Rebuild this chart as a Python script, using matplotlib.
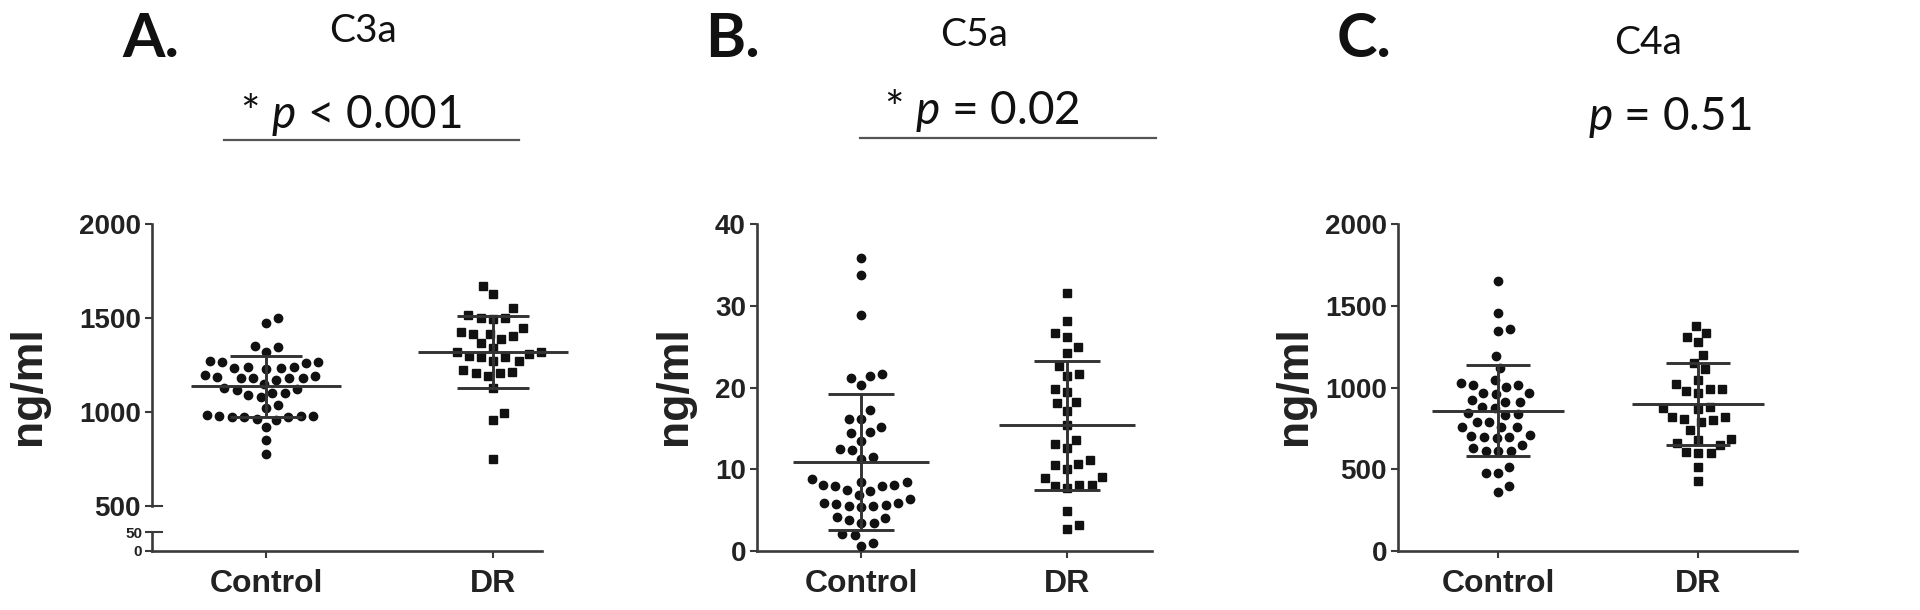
import numpy as np
import matplotlib
matplotlib.use("Agg")
import matplotlib.pyplot as plt
from matplotlib.lines import Line2D

plt.rcParams['font.family'] = ['Liberation Sans', 'DejaVu Sans']
plt.rcParams['mathtext.fontset'] = 'custom'
plt.rcParams['mathtext.it'] = 'Lato:italic'
plt.rcParams['mathtext.rm'] = 'Lato'

# ---------------- data ----------------
groups = ['Control', 'DR']

c3a_control = [1500, 1475, 1350, 1345, 1320, 1270, 1265, 1265, 1262, 1240, 1232,
               1228, 1235, 1240, 1195, 1185, 1180, 1180, 1182, 1180, 1190, 1170,
               1150, 1100, 1080, 1130, 1125, 1115, 1090, 1100, 1035, 1020, 985,
               975, 972, 960, 980, 965, 975, 980, 978, 920, 850, 775]
c3a_dr = [1668, 1627, 1552, 1500, 1500, 1495, 1518, 1425, 1415, 1405, 1415, 1445,
          1390, 1365, 1320, 1310, 1340, 1290, 1270, 1270, 1290, 1210, 1205, 1215,
          1190, 1225, 1300, 1320, 1130, 995, 960, 752]
c3a_mean = [1136, 1320]
c3a_sd = [161, 192]

c5a_control = [35.8, 33.8, 28.9, 21.7, 21.2, 21.4, 20.3, 17.3, 16.2, 16.2, 15.2,
               14.4, 14.6, 13.5, 12.5, 12.4, 11.3, 11.5, 8.8, 8.4, 8.1, 7.5, 7.4,
               7.9, 8.1, 8.0, 8.5, 6.85, 5.9, 5.75, 5.5, 5.35, 5.5, 5.6, 5.9, 6.4,
               4.0, 3.4, 3.4, 3.8, 4.2, 1.96, 2.1, 1.0, 0.65]
c5a_dr = [31.6, 28.1, 26.7, 26.2, 25.0, 24.2, 21.7, 21.4, 22.6, 19.4, 19.8, 18.1,
          18.2, 17.1, 15.4, 13.6, 13.1, 12.6, 11.1, 10.7, 10.5, 10.0, 8.9, 9.0,
          8.0, 7.7, 8.1, 8.1, 4.9, 2.65, 3.2]
c5a_mean = [10.9, 15.4]
c5a_sd = [8.3, 7.9]

c4a_control = [1649, 1455, 1343, 1357, 1190, 1118, 1047, 1016, 1006, 1016, 1027,
               969, 961, 969, 914, 914, 924, 833, 873, 880, 843, 839, 761, 761,
               786, 792, 757, 704, 696, 690, 700, 708, 649, 614, 614, 614, 629,
               476, 476, 516, 363, 398]
c4a_dr = [1378, 1333, 1308, 1276, 1200, 1149, 1112, 1047, 976, 990, 990, 1022, 965,
          867, 822, 873, 880, 786, 802, 806, 818, 741, 663, 680, 649, 684, 598,
          598, 608, 516, 431]
c4a_mean = [859, 900]
c4a_sd = [276, 250]

panel_letters = ['A.', 'B.', 'C.']
panel_titles = ['C3a', 'C5a', 'C4a']
p_texts = [r'* $p$ < 0.001', r'* $p$ = 0.02', r'$p$ = 0.51']
ylabel = 'ng/ml'

# ---------------- layout ----------------
W, H = 1920, 610
fig = plt.figure(figsize=(W / 100, H / 100), dpi=100)

INK = '#111111'
AX = '#3a3a3a'
LINE = '#333333'
TXT = '#222222'


def rect(l, t, r, b):
    return [l / W, 1 - b / H, (r - l) / W, (b - t) / H]


def fx(x):
    return x / W


def fy(y):
    return 1 - y / H


def bold_ticks(ax):
    for lab in ax.get_yticklabels() + ax.get_xticklabels():
        lab.set_fontweight('bold')


def style_axis(ax, show_bottom=True):
    for s in ['top', 'right']:
        ax.spines[s].set_visible(False)
    for s in ['left', 'bottom']:
        ax.spines[s].set_color(AX)
        ax.spines[s].set_linewidth(1.9)
    if not show_bottom:
        ax.spines['bottom'].set_visible(False)
    ax.tick_params(axis='y', direction='out', length=5, width=1.5, color=AX,
                   labelsize=20, labelcolor=TXT, pad=3)
    ax.tick_params(axis='x', direction='out', length=5, width=1.5, color=AX,
                   labelsize=23, labelcolor=TXT, pad=8)
    bold_ticks(ax)
    ax.patch.set_visible(False)


def swarm(ax, values, xc, diam_px=12.5):
    vals = np.asarray(values, dtype=float)
    pts = ax.transData.transform(np.column_stack([np.full(len(vals), xc), vals]))
    ys = pts[:, 1]
    order = np.argsort(ys, kind='stable')
    px_list, py_list = [], []
    xs = np.zeros(len(vals))
    sign = 1.0
    for i in order:
        y = ys[i]
        intervals = []
        for pxx, pyy in zip(px_list, py_list):
            dy = abs(pyy - y)
            if dy < diam_px:
                dx = np.sqrt(diam_px ** 2 - dy ** 2)
                intervals.append((pxx - dx, pxx + dx))
        cands = [0.0] + [a for a, b in intervals] + [b for a, b in intervals]
        cands.sort(key=lambda c: (round(abs(c), 6), -sign * c))
        chosen = 0.0
        for c in cands:
            if all(not (a + 1e-6 < c < b - 1e-6) for a, b in intervals):
                chosen = c
                break
        xs[i] = chosen
        px_list.append(chosen)
        py_list.append(y)
        if chosen != 0:
            sign = -np.sign(chosen)
    ppu = ax.transData.transform((1, 0))[0] - ax.transData.transform((0, 0))[0]
    return xc + xs / ppu


def draw_group(ax, vals, xc, marker):
    xs = swarm(ax, vals, xc)
    ms = 6.0 if marker == 'o' else 5.6
    ax.plot(xs, vals, linestyle='none', marker=marker, ms=ms, color=INK,
            mec=INK, clip_on=False, zorder=3)


def draw_stats(ax, xc, mean, sd):
    kw = dict(color=LINE, lw=2.1, solid_capstyle='butt', zorder=4, clip_on=False)
    ax.plot([xc - 0.33, xc + 0.33], [mean, mean], **kw)
    ax.plot([xc - 0.16, xc + 0.16], [mean + sd, mean + sd], **kw)
    ax.plot([xc - 0.16, xc + 0.16], [mean - sd, mean - sd], **kw)
    ax.plot([xc, xc], [mean - sd, mean + sd], **kw)


xpos = np.arange(len(groups))

# ---------- Panel A (broken axis) ----------
axA = fig.add_axes(rect(152, 224, 542, 506))
axA0 = fig.add_axes(rect(152, 532, 542, 551))
for a in (axA, axA0):
    a.set_xlim(-0.502, 1.216)
axA.set_ylim(500, 2000)
axA0.set_ylim(0, 50)
axA.set_yticks([500, 1000, 1500, 2000])
axA.set_xticks([])
axA0.set_yticks([0, 50])
axA0.set_xticks(xpos)
axA0.set_xticklabels(groups)
style_axis(axA, show_bottom=False)
style_axis(axA0)
axA0.tick_params(axis='y', labelsize=11, pad=2)
bold_ticks(axA0)
# break marks
ytr = axA.get_yaxis_transform()
axA.plot([0, 10 / 390], [500, 500], color=AX, lw=1.5, transform=ytr, clip_on=False)
ytr0 = axA0.get_yaxis_transform()
axA0.plot([0, 10 / 390], [50, 50], color=AX, lw=1.5, transform=ytr0, clip_on=False)

draw_group(axA, c3a_control, xpos[0], 'o')
draw_group(axA, c3a_dr, xpos[1], 's')
for i in range(2):
    draw_stats(axA, xpos[i], c3a_mean[i], c3a_sd[i])

# ---------- Panel B ----------
axB = fig.add_axes(rect(757, 224, 1152, 551))
axB.set_xlim(-0.505, 1.413)
axB.set_ylim(0, 40)
axB.set_yticks([0, 10, 20, 30, 40])
axB.set_xticks(xpos)
axB.set_xticklabels(groups)
style_axis(axB)
draw_group(axB, c5a_control, xpos[0], 'o')
draw_group(axB, c5a_dr, xpos[1], 's')
for i in range(2):
    draw_stats(axB, xpos[i], c5a_mean[i], c5a_sd[i])

# ---------- Panel C ----------
axC = fig.add_axes(rect(1398, 224, 1797, 551))
axC.set_xlim(-0.5, 1.495)
axC.set_ylim(0, 2000)
axC.set_yticks([0, 500, 1000, 1500, 2000])
axC.set_xticks(xpos)
axC.set_xticklabels(groups)
style_axis(axC)
draw_group(axC, c4a_control, xpos[0], 'o')
draw_group(axC, c4a_dr, xpos[1], 's')
for i in range(2):
    draw_stats(axC, xpos[i], c4a_mean[i], c4a_sd[i])

# ---------- labels ----------
for xc in (28, 675, 1294):
    fig.text(fx(xc), fy(386), ylabel, rotation=90, ha='center', va='center',
             fontsize=32, fontweight='bold', color=TXT)

letter_pos = [(122, 57), (705, 57), (1337, 57)]
title_pos = [(363, 42), (974, 46), (1648, 54)]
ptext_pos = [(351, 128), (982, 124), (1670, 130)]
for k in range(3):
    fig.text(fx(letter_pos[k][0]), fy(letter_pos[k][1]), panel_letters[k],
             fontsize=44, fontweight='bold', family='Lato', ha='left',
             va='baseline', color='#111111')
    fig.text(fx(title_pos[k][0]), fy(title_pos[k][1]), panel_titles[k],
             fontsize=28, family='Lato', ha='center', va='baseline',
             color='#111111')
    fig.text(fx(ptext_pos[k][0]), fy(ptext_pos[k][1]), p_texts[k],
             fontsize=33, family='Lato', ha='center', va='baseline',
             color='#111111')

# significance lines
for (x0, x1, yy) in [(224, 519, 140), (860, 1156, 138)]:
    fig.add_artist(Line2D([fx(x0), fx(x1)], [fy(yy), fy(yy)], color='#555555',
                          lw=1.6, transform=fig.transFigure))

fig.savefig('out.png', dpi=100, facecolor='white')
